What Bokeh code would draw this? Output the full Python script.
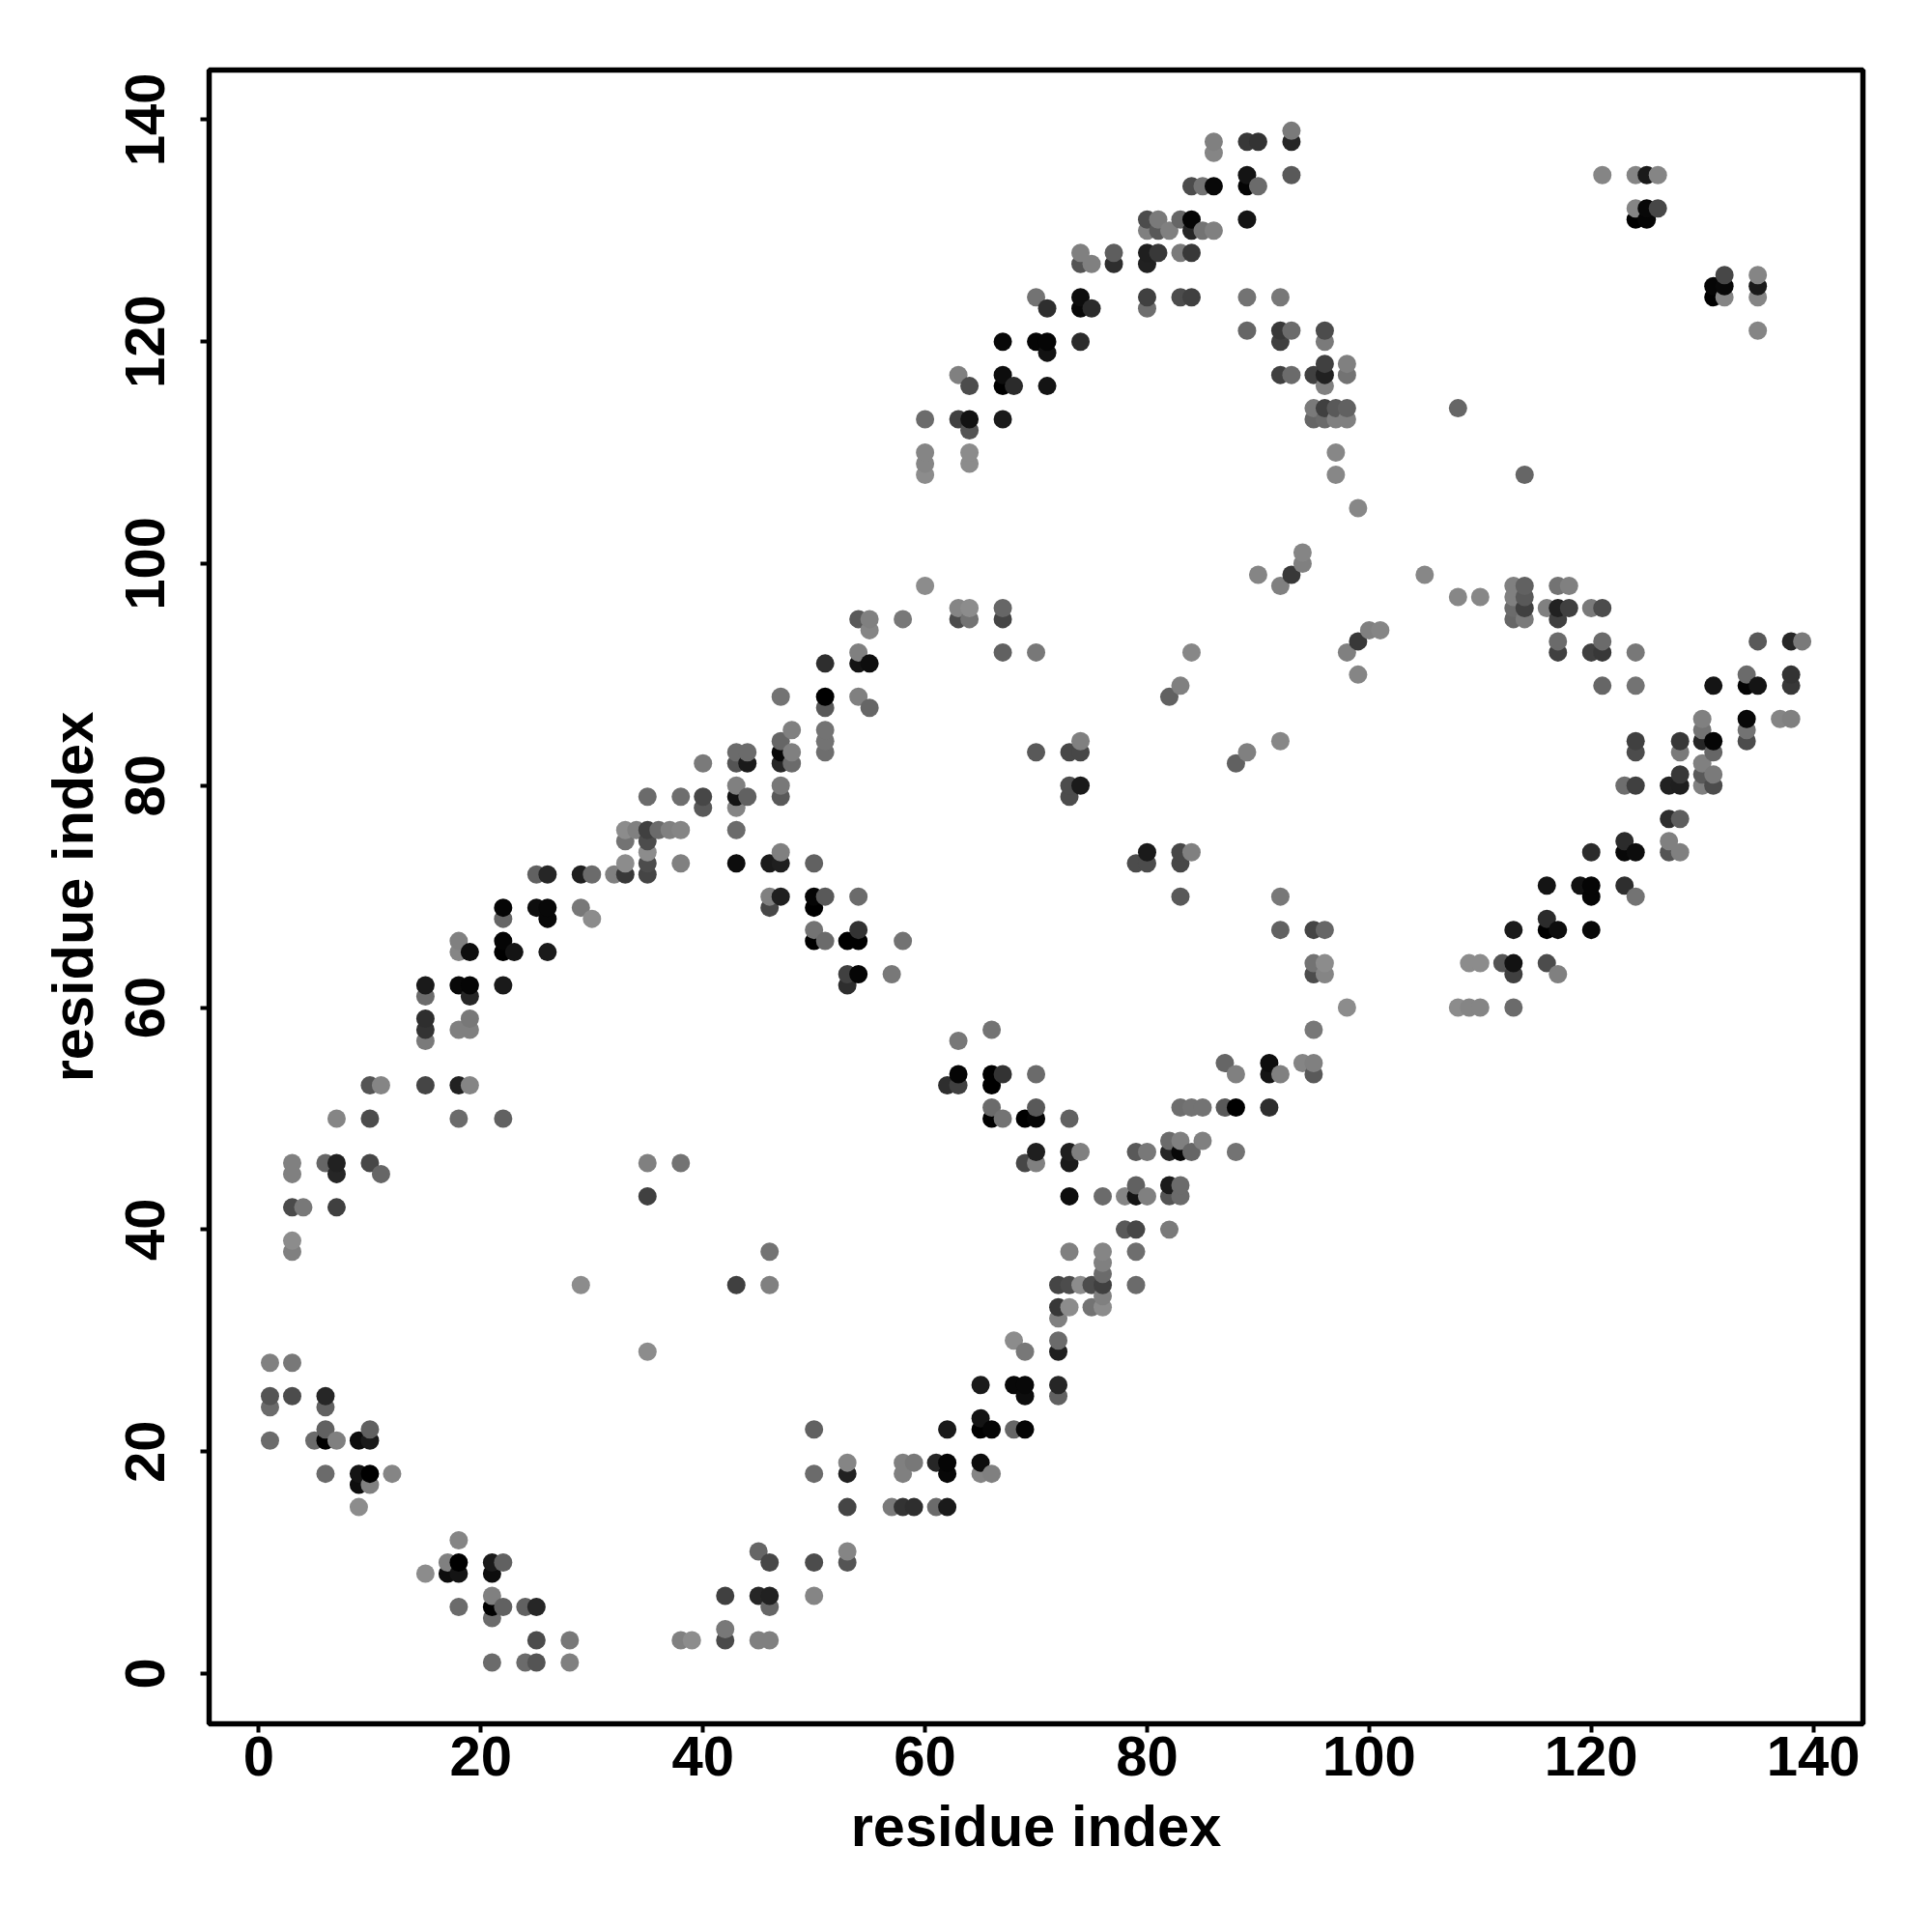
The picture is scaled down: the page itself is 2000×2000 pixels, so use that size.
from bokeh.plotting import figure
from bokeh.models import Range1d, FixedTicker, ColumnDataSource
from bokeh.embed import file_html
from bokeh.resources import INLINE

res_i = [1,1,1,1,
 3,3,3,3,3,3,3,
 4, 5,
 6,6,6,6,6,6,
 7,7,7,7,7,
 9,9,9,9,
 10,10,10,10,10,10,10,
 11,11, 12,
 15,15,15,15,15,15,
 18,18,18,18,18,18,
 19,19,19,19,19,19,
 22,22,22,22,22,22,
 23, 25,25,
 26,26,26,26,
 29,29,29, 30,30, 32,
 33,33,33,33, 34,
 35,35,35,35,35,35,35,35,
 36, 37,
 38,38,38,38,
 40,40,40,
 43,43,43,43,43,43,43,
 44,44,44,
 46,46,46,
 47,47,47,47,47,47,47,47,47,
 48,48,48,
 50,50,50,50,50,
 51,51,51,51,51,51,51,51,
 53,53,53,
 54,54,54,54,54,54,54,54,
 55,55,55,55,
 57, 58,58,
 60,60,60,60,60,
 63,63,63,63,
 64,64,64,64,64,64,64,
 67,67,67,67,67,67,67,
 68,
 70,70,70,70,
 71,71,71,71,
 73,73,73,
 74,74,74,74,74,74,74,74,
 75,75, 77,77,
 80,80,80,80,80,80,
 81,81,81,
 82,82,
 83,83,83,83,
 84,84,84,84,84,84,
 85,85,
 86,86,86,86,
 89,89,89,89,89,89,
 90,90,90,
 92,92,92,92,92,
 93,93,93,93,93,93,
 94,94,
 95,95,95,
 96,96,96,96,96,96,96,
 97,97,97,97,
 98,98,98,98,
 99, 108, 121,
 124,124,124,
 125,125,125,
 126,126]

res_j = [21,24,25,28,
 25,28,38,39,42,45,46,
 42, 21,
 18,21,22,24,25,46,
 21,42,45,46,50,
 15,17,18,21,
 17,18,21,22,46,50,53,
 45,53, 18,
 53,57,58,59,61,62,
 50,53,58,62,65,66,
 53,58,59,61,62,65,
 50,62,65,66,68,69,
 65, 69,72,
 65,68,69,72,
 35,69,72, 68,72, 72,
 72,73,75,76, 76,
 43,46,72,73,74,75,76,79,
 76, 76,
 46,73,76,79,
 78,79,82,
 73,76,78,79,80,82,83,
 79,82,83,
 69,70,73,
 70,73,74,79,80,82,83,84,88,
 82,83,85,
 66,67,69,70,73,
 66,70,83,84,85,87,88,91,
 62,63,66,
 63,66,67,70,88,91,92,95,
 87,91,94,95,
 63, 66,95,
 98,108,109,110,113,
 95,96,113,117,
 95,96,109,110,112,113,116,
 92,95,96,113,116,117,120,
 116,
 83,92,120,124,
 116,119,120,123,
 79,80,83,
 80,83,84,120,123,124,127,128,
 123,127, 127,128,
 123,124,127,128,130,131,
 128,130,131,
 88,130,
 89,124,128,131,
 92,124,128,130,131,134,
 130,134,
 130,134,137,138,
 121,124,131,134,135,138,
 99,134,138,
 98,117,120,121,124,
 99,117,121,135,138,139,
 100,101,
 113,114,117,
 113,114,116,117,118,120,121,
 108,110,113,114,
 113,114,117,118,
 105, 114, 135,
 131,132,135,
 131,132,135,
 132,135]

shade = [.42,.42,.33,.5,
 .3,.47,.5,.55,.29,.5,.5,
 .47, .42,
 .42,.0,.38,.38,.15,.4,
 .5,.25,.15,.13,.52,
 .55,.05,.08,.05,
 .5,.0,.1,.38,.28,.3,.33,
 .4,.52, .52,
 .27,.48,.2,.18,.42,.1,
 .42,.13,.5,.03,.52,.5,
 .52,.5,.47,.15,.02,.05,
 .38,.1,.0,.02,.4,.02,
 .08, .05,.38,
 .1,.03,.03,.15,
 .55,.47,.12, .55,.42, .5,
 .22,.55,.45,.55, .5,
 .25,.5,.27,.3,.55,.3,.25,.42,
 .42, .5,
 .45,.5,.52,.43,
 .35,.28,.48,
 .05,.42,.52,.08,.5,.33,.42,
 .38,.1,.42,
 .28,.5,.1,
 .12,.12,.5,.35,.47,.15,.03,.4,.45,
 .42,.5,.5,
 .0,.45,.0,.02,.38,
 .42,.35,.43,.45,.45,.35,.0,.18,
 .18,.25,.0,
 .02,.0,.2,.42,.5,.08,.5,.35,
 .4,.05,.52,.5,
 .47, .45,.47,
 .55,.55,.52,.52,.42,
 .3,.52,.25,.5,
 .45,.55,.55,.55,.33,.07,.3,
 .38,.27,.4,.1,.0,.05,.03,
 .17,
 .35,.47,.02,.45,
 .08,.07,.02,.18,
 .3,.3,.28,
 .1,.28,.5,.17,.03,.05,.33,.5,
 .17,.5, .18,.37,
 .43,.25,.13,.12,.5,.3,
 .22,.35,.48,
 .38,.5,
 .5,.3,.48,.4,
 .53,.25,.22,.15,.02,.3,
 .45,.45,
 .5,.03,.52,.5,
 .4,.45,.08,.02,.08,.22,
 .52,.42,.2,
 .5,.25,.25,.22,.47,
 .22,.42,.42,.35,.15,.48,
 .5,.52,
 .4,.48,.25,
 .42,.25,.5,.13,.25,.48,.3,
 .53,.53,.5,.35,
 .5,.38,.45,.5,
 .53, .4, .52,
 .0,.52,.52,
 .02,.03,.1,
 .28,.52]

tick_values = [0, 20, 40, 60, 80, 100, 120, 140]
axis_title = "residue index"

assert len(res_i) == len(res_j) == len(shade), (len(res_i), len(res_j), len(shade))

# the map is symmetric: each contact appears at (i, j) and (j, i); later residues paint on top
rows = sorted(set(zip(res_i + res_j, res_j + res_i, shade + shade)))
xs = [r[0] for r in rows]
ys = [r[1] for r in rows]
colors = ["#%02x%02x%02x" % ((round(r[2] * 255),) * 3) for r in rows]
src = ColumnDataSource(dict(x=xs, y=ys, c=colors))

p = figure(width=1984, height=1984, output_backend="svg", toolbar_location=None,
           x_range=Range1d(-4.48, 144.47), y_range=Range1d(-4.53, 144.47),
           min_border_left=216, min_border_right=56, min_border_top=72, min_border_bottom=200)
p.scatter("x", "y", source=src, size=19, fill_color="c", line_color=None)

p.grid.visible = False
p.outline_line_color = "black"
p.outline_line_width = 5.5
p.background_fill_color = "white"
p.border_fill_color = "white"

for ax in (p.xaxis[0], p.yaxis[0]):
    ax.ticker = FixedTicker(ticks=tick_values)
    ax.axis_line_color = None
    ax.major_tick_line_color = "black"
    ax.major_tick_line_width = 4
    ax.major_tick_out = 9
    ax.major_tick_in = 0
    ax.minor_tick_line_color = None
    ax.major_label_text_font = "Liberation Sans"
    ax.major_label_text_font_style = "bold"
    ax.major_label_text_font_size = "58px"
    ax.major_label_text_color = "black"
    ax.axis_label = axis_title
    ax.axis_label_text_font = "Liberation Sans"
    ax.axis_label_text_font_style = "bold"
    ax.axis_label_text_font_size = "59.5px"
    ax.axis_label_text_color = "black"
p.yaxis[0].major_label_orientation = "vertical"
p.xaxis[0].major_label_standoff = 4
p.yaxis[0].major_label_standoff = 37
p.xaxis[0].axis_label_standoff = 16
p.yaxis[0].axis_label_standoff = 19

open("out.html", "w").write(file_html(p, INLINE))
